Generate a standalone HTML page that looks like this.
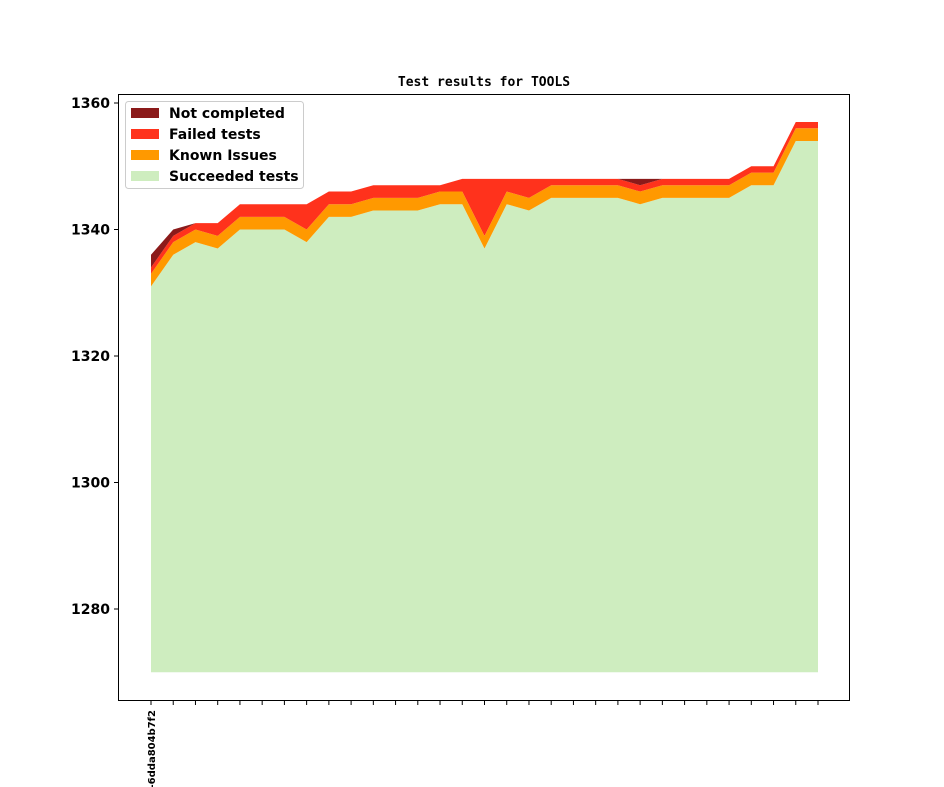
<!DOCTYPE html>
<html><head><meta charset="utf-8">
<style>
html,body{margin:0;padding:0;background:#fff;}
svg{display:block;font-family:"DejaVu Sans","Liberation Sans",sans-serif;}
</style></head>
<body>
<svg id="chart" width="944" height="787" viewBox="0 0 944 787" xmlns="http://www.w3.org/2000/svg">
<rect width="944" height="787" fill="#fff"/>
<text x="484" y="86" text-anchor="middle" font-family="'DejaVu Sans Mono','Liberation Mono',monospace" font-weight="bold" font-size="13">Test results for TOOLS</text>
<g id="areas"></g>
<rect x="118.5" y="94.5" width="731" height="606" fill="none" stroke="#000" stroke-width="1"/>
<g id="yaxis"></g>
<g id="xaxis"></g>
<g>
<rect x="125.5" y="101.5" width="178" height="87" rx="3" fill="#fff" fill-opacity="0.8" stroke="#ccc"/>
<g><rect x="131" y="108" width="28" height="10" fill="#8b1a1a"/><text x="169" y="118" font-weight="bold" font-size="14">Not completed</text></g>
<g><rect x="131" y="129" width="28" height="10" fill="#ff321c"/><text x="169" y="139" font-weight="bold" font-size="14">Failed tests</text></g>
<g><rect x="131" y="150" width="28" height="10" fill="#ff9900"/><text x="169" y="160" font-weight="bold" font-size="14">Known Issues</text></g>
<g><rect x="131" y="171" width="28" height="10" fill="#ceedbf"/><text x="169" y="181" font-weight="bold" font-size="14">Succeeded tests</text></g>
</g>
</svg>
<script>
const succeeded = [1331,1336,1338,1337,1340,1340,1340,1338,1342,1342,1343,1343,1343,1344,1344,1337,1344,1343,1345,1345,1345,1345,1344,1345,1345,1345,1345,1347,1347,1354,1354];
const knownIssues = [2,2,2,2,2,2,2,2,2,2,2,2,2,2,2,2,2,2,2,2,2,2,2,2,2,2,2,2,2,2,2];
const failed = [1,1,1,2,2,2,2,4,2,2,2,2,2,1,2,9,2,3,1,1,1,1,1,1,1,1,1,1,1,1,1];
const notCompleted = [2,1,0,0,0,0,0,0,0,0,0,0,0,0,0,0,0,0,0,0,0,0,1,0,0,0,0,0,0,0,0];
const yTicks = [1280,1300,1320,1340,1360];
const xLabels = ["-6dda804b7f2"];
const baseline = 1270;

const NS = "http://www.w3.org/2000/svg";
function yScale(v){ return 103 + (1360 - v) * 6.325; }
function xScale(i){ return 151 + i * (818 - 151) / (succeeded.length - 1); }

const n = succeeded.length;
const l1 = succeeded.slice();
const l2 = l1.map((v,i)=>v+knownIssues[i]);
const l3 = l2.map((v,i)=>v+failed[i]);
const l4 = l3.map((v,i)=>v+notCompleted[i]);
const lower0 = new Array(n).fill(baseline);
const layers = [
  [lower0, l1, "#ceedbf", "area-succeeded"],
  [l1, l2, "#ff9900", "area-known-issues"],
  [l2, l3, "#ff321c", "area-failed"],
  [l3, l4, "#8b1a1a", "area-not-completed"]
];
const areas = document.getElementById("areas");
layers.forEach(([lo, hi, color, name])=>{
  let d = "";
  for (let i=0;i<n;i++) d += (i?"L":"M") + xScale(i).toFixed(2) + " " + yScale(hi[i]).toFixed(2) + " ";
  for (let i=n-1;i>=0;i--) d += "L" + xScale(i).toFixed(2) + " " + yScale(lo[i]).toFixed(2) + " ";
  d += "Z";
  const p = document.createElementNS(NS, "path");
  p.setAttribute("d", d);
  p.setAttribute("fill", color);
  
  
  areas.appendChild(p);
});

const ya = document.getElementById("yaxis");
yTicks.forEach(t=>{
  const y = yScale(t);
  const ln = document.createElementNS(NS, "line");
  ln.setAttribute("x1", 114); ln.setAttribute("x2", 118);
  ln.setAttribute("y1", y); ln.setAttribute("y2", y);
  ln.setAttribute("stroke", "#000");
  
  
  ya.appendChild(ln);
  const tx = document.createElementNS(NS, "text");
  tx.setAttribute("x", 110); tx.setAttribute("y", y + 5);
  tx.setAttribute("text-anchor", "end");
  tx.setAttribute("font-weight", "bold");
  tx.setAttribute("font-size", "14");
  tx.textContent = t;
  
  
  ya.appendChild(tx);
});

const xa = document.getElementById("xaxis");
for (let i=0;i<n;i++){
  const x = xScale(i);
  const ln = document.createElementNS(NS, "line");
  ln.setAttribute("x1", x); ln.setAttribute("x2", x);
  ln.setAttribute("y1", 700); ln.setAttribute("y2", 705);
  ln.setAttribute("stroke", "#000");
  
  
  xa.appendChild(ln);
}
xLabels.forEach((lab,i)=>{
  const x = xScale(i);
  const tx = document.createElementNS(NS, "text");
  tx.setAttribute("transform", "translate(" + (x + 4) + ",710) rotate(-90)");
  tx.setAttribute("text-anchor", "end");
  tx.setAttribute("font-weight", "bold");
  tx.setAttribute("font-size", "10");
  tx.textContent = lab;
  
  
  xa.appendChild(tx);
});
</script>
</body></html>
